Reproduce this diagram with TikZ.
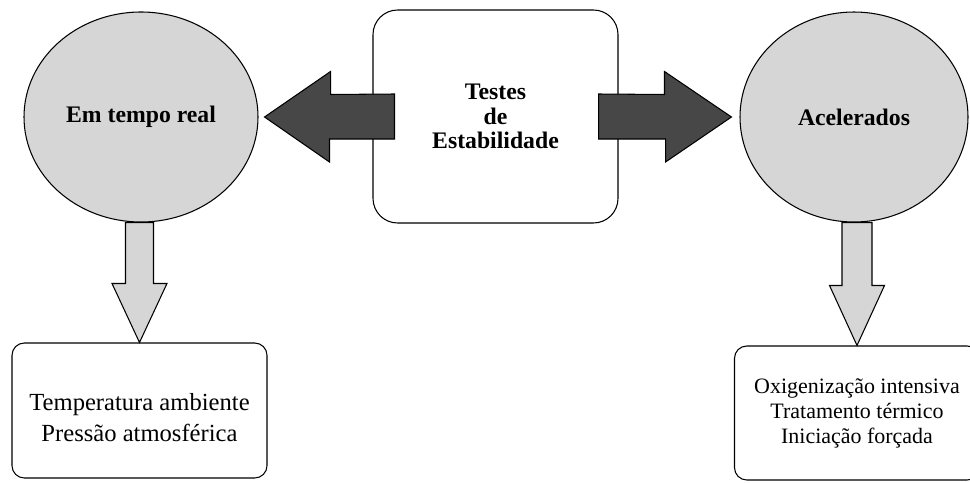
\documentclass[tikz,border=0pt]{standalone}
\usepackage{fontspec}
\setmainfont{Liberation Serif}
\usetikzlibrary{shapes.geometric,positioning,calc}

\begin{document}
\begin{tikzpicture}[
  typenode/.style = {ellipse, draw=black, semithick, fill=black!16,
                     minimum width=4.68cm, minimum height=4.2cm,
                     font=\fontsize{13.5}{14}\selectfont\bfseries},
  mainbox/.style  = {rectangle, rounded corners=14pt, draw=black, semithick,
                     fill=white, align=center,
                     minimum width=4.9cm, minimum height=4.26cm,
                     font=\fontsize{13.5}{14}\selectfont\bfseries},
  condbox/.style  = {rectangle, rounded corners=7pt, draw=black, semithick,
                     fill=white, align=center},
  bigarr/.style   = {draw=black, fill=black!72, semithick},
  downarr/.style  = {draw=black, fill=black!16, semithick},
]
\useasboundingbox (0,0) rectangle (19.4,-9.64);

%% central box and the two kinds of test
\node[mainbox] (testes) at (9.91,-2.33) {Testes\\de\\Estabilidade};
\node[typenode] (real) at (2.82,-2.34) {Em tempo real};
\node[typenode, minimum width=4.56cm] (acel) at (17.08,-2.34) {Acelerados};

%% conditions
\node[condbox, minimum width=5.1cm, minimum height=2.7cm, text height=35pt,
      font=\fontsize{14}{17.5}\selectfont] (ambiente) at (2.79,-8.21)
  {Temperatura ambiente\\Pressão atmosférica};
\node[condbox, minimum width=4.9cm, minimum height=2.68cm,
      font=\fontsize{12.5}{14.2}\selectfont] (forcado) at (17.14,-8.26)
  {Oxigenização intensiva\\Tratamento térmico\\Iniciação forçada};

%% big arrows out of the central box
\coordinate (ltip)  at ($(real.east)+(0.12,0)$);
\coordinate (ltail) at ($(testes.west)+(0.44,0)$);
\draw[bigarr] (ltip) -- ++(1.32,0.91) -- ++(0,-0.46)
  -- ($(ltail)+(0,0.45)$) -- ($(ltail)+(0,-0.45)$)
  -- ++(-1.3,0) -- ++(0,-0.46) -- cycle;

\coordinate (rtip)  at ($(acel.west)+(-0.16,0)$);
\coordinate (rtail) at ($(testes.east)+(-0.4,0)$);
\draw[bigarr] (rtip) -- ++(-1.34,0.91) -- ++(0,-0.46)
  -- ($(rtail)+(0,0.45)$) -- ($(rtail)+(0,-0.45)$)
  -- ++(1.34,0) -- ++(0,-0.46) -- cycle;

%% down arrows to the conditions
\draw[downarr] (ambiente.north) -- ++(-0.55,1.18) -- ++(0.27,0)
  -- ($(real.south -| ambiente.north)+(-0.28,0)$) -- ++(0.56,0)
  -- ($(ambiente.north)+(0.28,1.18)$) -- ++(0.27,0) -- cycle;

\draw[downarr] (forcado.north) -- ++(-0.55,1.2) -- ++(0.25,0)
  -- ($(acel.south -| forcado.north)+(-0.3,0)$) -- ++(0.6,0)
  -- ($(forcado.north)+(0.3,1.2)$) -- ++(0.25,0) -- cycle;

\end{tikzpicture}
\end{document}
